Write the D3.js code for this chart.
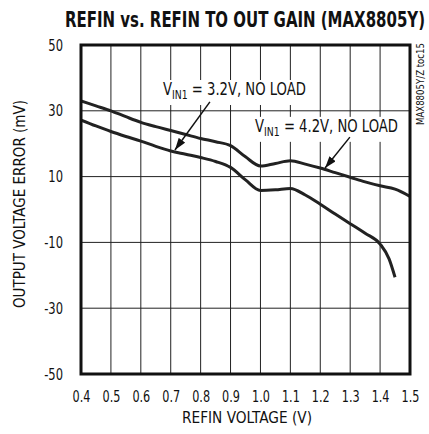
<!doctype html>
<html lang="en">
<head>
<meta charset="utf-8">
<title>REFIN vs. REFIN TO OUT GAIN</title>
<style>
  body { margin: 0; background: #fff; }
  text { font-family: "Liberation Sans Narrow", "DejaVu Sans Condensed", sans-serif; fill: #111; }
</style>
</head>
<body>
<div id="chart"></div>
<script src="https://d3js.org/d3.v7.min.js"></script>
<script>
// data
var xTicks = [0.4, 0.5, 0.6, 0.7, 0.8, 0.9, 1.0, 1.1, 1.2, 1.3, 1.4, 1.5];
var yTicks = [50, 30, 10, -10, -30, -50];

var refinHi = [0.40, 0.45, 0.50, 0.55, 0.60, 0.65, 0.70, 0.75, 0.80, 0.85, 0.90, 0.95,
               1.00, 1.05, 1.10, 1.15, 1.20, 1.25, 1.30, 1.35, 1.40, 1.45, 1.50];
var errHi   = [33.0, 31.5, 30.0, 28.2, 26.5, 25.2, 24.0, 22.8, 21.6, 20.6, 19.4, 16.0,
               13.2, 14.0, 14.8, 13.8, 12.6, 11.2, 9.8, 8.4, 7.2, 6.2, 4.0];

var refinLo = [0.40, 0.45, 0.50, 0.55, 0.60, 0.65, 0.70, 0.75, 0.80, 0.85, 0.90, 0.95,
               1.00, 1.05, 1.10, 1.15, 1.20, 1.25, 1.30, 1.35, 1.40, 1.43, 1.45];
var errLo   = [27.2, 25.4, 23.7, 22.2, 20.8, 19.2, 17.8, 16.8, 15.8, 14.6, 12.8, 9.0,
               5.8, 6.0, 6.4, 4.4, 1.6, -1.4, -4.3, -7.2, -10.5, -15.0, -20.6];

var chartWidth = 429, chartHeight = 434;
var padL = 81, padR = 410, padT = 45, padB = 374;

var svg = d3.select('#chart').append('svg')
  .attr('width', chartWidth)
  .attr('height', chartHeight);

var xscale = d3.scaleLinear().domain([0.4, 1.5]).range([padL, padR]);
var yscale = d3.scaleLinear().domain([-50, 50]).range([padB, padT]);

// squeeze text to the narrow width of the original condensed face
function squeeze(sel, k) {
  sel.each(function(){
    var w = this.getComputedTextLength();
    d3.select(this).attr('textLength', w * k).attr('lengthAdjust', 'spacingAndGlyphs');
  });
}

// title
svg.append('text')
  .attr('x', 65).attr('y', 27)
  .attr('textLength', 360)
  .attr('lengthAdjust', 'spacingAndGlyphs')
  .style('font-weight', 'bold')
  .style('font-size', '22px')
  .text('REFIN vs. REFIN TO OUT GAIN (MAX8805Y)');

// grid
var grid = svg.append('g').attr('stroke', '#222').attr('stroke-width', 1);
grid.selectAll('.vg')
  .data(xTicks.slice(1, -1))
  .enter().append('line')
  .attr('x1', function(d){ return xscale(d); })
  .attr('x2', function(d){ return xscale(d); })
  .attr('y1', padT).attr('y2', padB);
grid.selectAll('.hg')
  .data(yTicks.slice(1, -1))
  .enter().append('line')
  .attr('x1', padL).attr('x2', padR)
  .attr('y1', function(d){ return yscale(d); })
  .attr('y2', function(d){ return yscale(d); });

// axes (labels only)
var xaxis = d3.axisBottom(xscale).tickValues(xTicks).tickSize(0).tickPadding(17)
  .tickFormat(d3.format('.1f'));
svg.append('g')
  .attr('transform', 'translate(0,' + padB + ')')
  .call(xaxis)
  .call(function(g){ g.select('.domain').remove(); })
  .selectAll('text').style('font-size', '16px').attr('fill', '#111')
  .call(squeeze, 0.78);

var yaxis = d3.axisLeft(yscale).tickValues(yTicks).tickSize(0).tickPadding(18)
  .tickFormat(function(d){ return String(d); });
svg.append('g')
  .attr('transform', 'translate(' + padL + ',0)')
  .call(yaxis)
  .call(function(g){ g.select('.domain').remove(); })
  .selectAll('text').style('font-size', '16px').attr('fill', '#111')
  .call(squeeze, 0.8);

svg.append('text')
  .attr('x', 247).attr('y', 423)
  .attr('text-anchor', 'middle')
  .attr('textLength', 130)
  .attr('lengthAdjust', 'spacingAndGlyphs')
  .style('font-size', '16px')
  .text('REFIN VOLTAGE (V)');

svg.append('text')
  .attr('transform', 'translate(25,204) rotate(-90)')
  .attr('text-anchor', 'middle')
  .attr('textLength', 208)
  .attr('lengthAdjust', 'spacingAndGlyphs')
  .style('font-size', '16px')
  .text('OUTPUT VOLTAGE ERROR (mV)');

svg.append('text')
  .attr('transform', 'translate(424,125) rotate(-90)')
  .attr('textLength', 82)
  .attr('lengthAdjust', 'spacingAndGlyphs')
  .style('font-size', '10px')
  .text('MAX8805Y/Z toc15');

// curves
var line = d3.line()
  .x(function(d){ return xscale(d[0]); })
  .y(function(d){ return yscale(d[1]); })
  .curve(d3.curveMonotoneX);

svg.append('clipPath').attr('id', 'plot')
  .append('rect').attr('x', padL).attr('y', padT)
  .attr('width', padR - padL).attr('height', padB - padT);

[[refinHi, errHi], [refinLo, errLo]].forEach(function(s){
  svg.append('path')
    .datum(d3.zip(s[0], s[1]))
    .attr('clip-path', 'url(#plot)')
    .attr('fill', 'none')
    .attr('stroke', '#222')
    .attr('stroke-width', 3)
    .attr('stroke-linejoin', 'round')
    .attr('d', line);
});

// annotations, in data units
var notes = [
  { tx: 0.674, ty: 34.8, vin: '3.2V', from: [0.831, 32.7], to: [0.714, 18.1] },
  { tx: 0.982, ty: 23.6, vin: '4.2V', from: [1.299, 22.0], to: [1.216, 12.6] }
];

svg.append('defs').append('marker')
  .attr('id', 'arrow')
  .attr('viewBox', '0 0 12 8')
  .attr('refX', 12).attr('refY', 4)
  .attr('markerWidth', 12).attr('markerHeight', 8)
  .attr('markerUnits', 'userSpaceOnUse')
  .attr('orient', 'auto')
  .append('path').attr('d', 'M0,0L12,4L0,8Z').attr('fill', '#111');

notes.forEach(function(n){
  var g = svg.append('g');
  var bg = g.append('rect').attr('fill', '#fff');
  var tg = g.append('g');
  var t = tg.append('text')
    .style('font-size', '17px');
  t.append('tspan').text('V');
  t.append('tspan').attr('dy', 4).style('font-size', '12px').text('IN1');
  t.append('tspan').attr('dy', -4).text(' = ' + n.vin + ', NO LOAD');
  var b = t.node().getBBox();
  var k = 143 / b.width;
  var x0 = xscale(n.tx), y0 = yscale(n.ty);
  tg.attr('transform', 'translate(' + x0 + ',' + y0 + ') scale(' + k + ',1)');
  bg.attr('x', x0 - 3).attr('y', y0 + b.y + 1)
    .attr('width', b.width * k + 6).attr('height', b.height + 2);

  g.append('line')
    .attr('x1', xscale(n.from[0])).attr('y1', yscale(n.from[1]))
    .attr('x2', xscale(n.to[0])).attr('y2', yscale(n.to[1]))
    .attr('stroke', '#111').attr('stroke-width', 1.5)
    .attr('marker-end', 'url(#arrow)');
});

// frame
svg.append('rect')
  .attr('x', padL).attr('y', padT)
  .attr('width', padR - padL).attr('height', padB - padT)
  .attr('fill', 'none').attr('stroke', '#111').attr('stroke-width', 3);
</script>
</body>
</html>
